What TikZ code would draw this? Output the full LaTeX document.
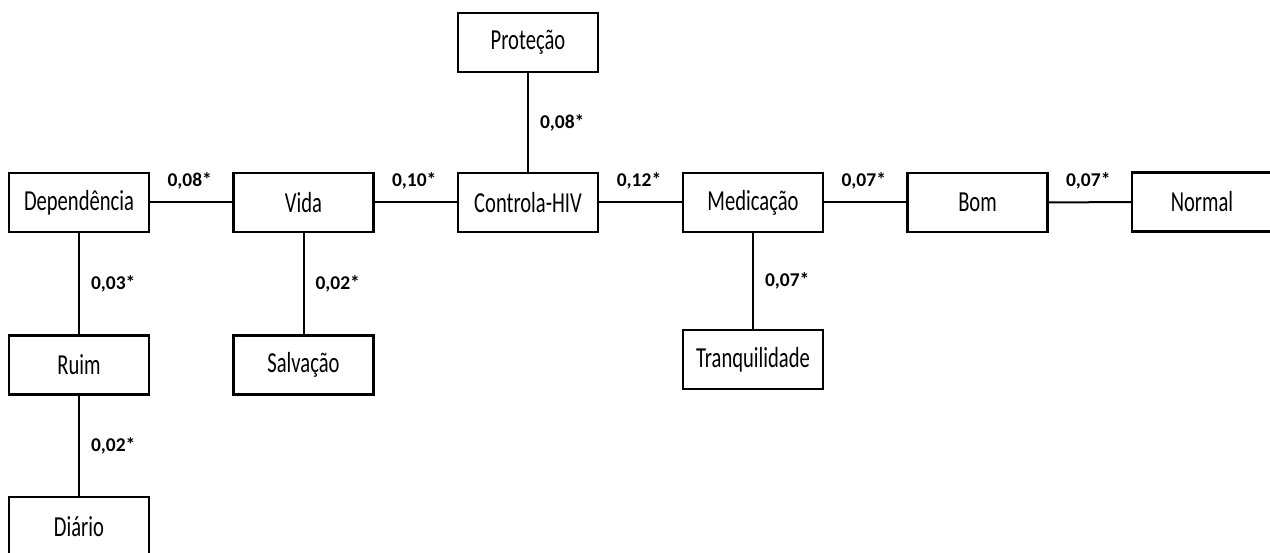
\documentclass[tikz,border=0pt]{standalone}
\usepackage{fontspec}
\setmainfont{Carlito}
\newfontfamily\boxfont[FakeStretch=0.71]{Carlito}
\begin{document}
\begin{tikzpicture}[x=1pt,y=-1pt,
  term/.style={draw, line width=2.3pt, minimum width=140pt, minimum height=59pt, inner sep=0pt, font=\boxfont\fontsize{29}{34}\selectfont},
  conn/.style={line width=2pt},
  hlab/.style={font=\bfseries\fontsize{19.5}{22}\selectfont, inner sep=0pt, anchor=base, yshift=16pt, xshift=-1.5pt},
  vlab/.style={font=\bfseries\fontsize{19.5}{22}\selectfont, inner sep=0pt, anchor=west, xshift=11pt}]
\useasboundingbox (0,0) rectangle (1270,553);
\clip (0,0) rectangle (1270,553);
\node[term] (prot) at (528,42.5) {Proteção};
\node[term] (dep) at (79,202.5) {Dependência};
\node[term] (vida) at (303.5,202.5) {Vida};
\node[term] (ctrl) at (528,202.5) {Controla-HIV};
\node[term] (med) at (753,202.5) {Medicação};
\node[term] (bom) at (977.5,202.5) {Bom};
\node[term] (norm) at (1202,202) {Normal};
\node[term] (ruim) at (79,365) {Ruim};
\node[term] (salv) at (303.5,365) {Salvação};
\node[term] (tranq) at (753,359.5) {Tranquilidade};
\node[term] (diar) at (79,526.5) {Diário};
\draw[conn] (dep) -- node[hlab]{0,08*} (vida);
\draw[conn] (vida) -- node[hlab]{0,10*} (ctrl);
\draw[conn] (ctrl) -- node[hlab]{0,12*} (med);
\draw[conn] (med) -- node[hlab]{0,07*} (bom);
\draw[conn] (bom) -- node[hlab]{0,07*} (norm);
\draw[conn] (prot) -- node[vlab]{0,08*} (ctrl);
\draw[conn] (dep) -- node[vlab]{0,03*} (ruim);
\draw[conn] (vida) -- node[vlab]{0,02*} (salv);
\draw[conn] (med) -- node[vlab]{0,07*} (tranq);
\draw[conn] (ruim) -- node[vlab]{0,02*} (diar);
\end{tikzpicture}
\end{document}
